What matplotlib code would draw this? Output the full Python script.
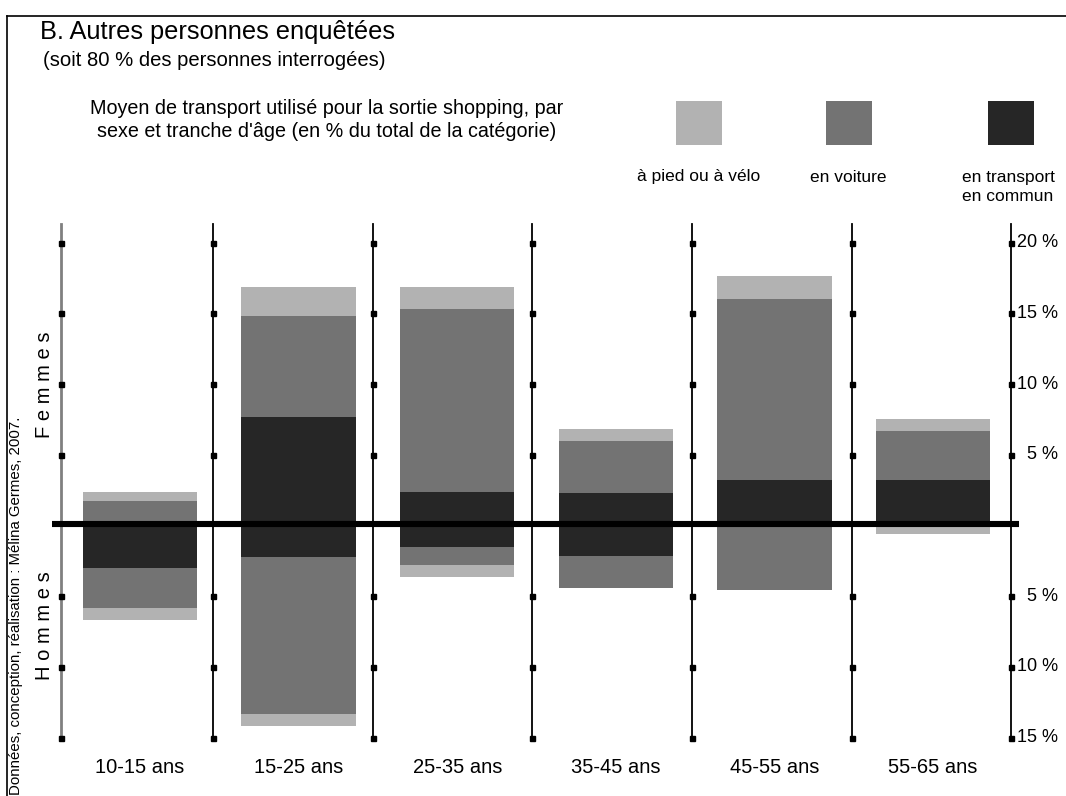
import numpy as np
import matplotlib
matplotlib.use("Agg")
import matplotlib.pyplot as plt
from matplotlib.patches import Rectangle

plt.rcParams['font.family'] = ['Liberation Sans', 'DejaVu Sans']

# Données (en % du total de la catégorie)
tranches = ["10-15 ans", "15-25 ans", "25-35 ans", "35-45 ans", "45-55 ans", "55-65 ans"]
femmes_transport = [0.0, 7.7, 2.4, 2.3, 3.2, 3.2]
femmes_voiture   = [1.7, 7.1, 12.9, 3.7, 12.8, 3.5]
femmes_pied      = [0.7, 2.1, 1.6, 0.8, 1.65, 0.8]
hommes_transport = [3.0, 2.2, 1.5, 2.15, 0.0, 0.0]
hommes_voiture   = [2.8, 11.15, 1.3, 2.3, 4.55, 0.0]
hommes_pied      = [0.9, 0.8, 0.85, 0.0, 0.0, 0.6]
ticks_haut = [20, 15, 10, 5]
ticks_bas = [5, 10, 15]

c_pied = "#b2b2b2"
c_voiture = "#737373"
c_transport = "#262626"

W, H = 1066, 796
fig = plt.figure(figsize=(W/100, H/100), dpi=100)
ax = fig.add_axes([0, 0, 1, 1])
# 1 unité x = 158.6 px (centre 1er groupe à x=140), 1 % = 14.14 px (zéro à y=525.5)
ax.set_xlim(-140/158.6, (W-140)/158.6)
ax.set_ylim(-(H-525.5)/14.14, 525.5/14.14)
ax.set_axis_off()

x = np.arange(len(tranches))
larg = 0.722

# séparateurs verticaux
sep = [-0.5, 0.46, 1.47, 2.47, 3.48, 4.49, 5.49]
marq = [20, 15, 10, 5, -5, -10, -15]
for k, xs in enumerate(sep):
    col = "#808080" if k == 0 else "black"
    lw = 2.0 if k == 0 else 1.3
    ax.plot([xs, xs], [-15, 21.3], color=col, lw=lw, zorder=1)
    ax.plot([xs]*len(marq), marq, ls="none", marker="s", ms=3.6, color="black", zorder=2)

# barres femmes (vers le haut)
ft = np.array(femmes_transport); fv = np.array(femmes_voiture); fp = np.array(femmes_pied)
ax.bar(x, ft, larg, color=c_transport, zorder=3)
ax.bar(x, fv, larg, bottom=ft, color=c_voiture, zorder=3)
ax.bar(x, fp, larg, bottom=ft+fv, color=c_pied, zorder=3)
# barres hommes (vers le bas)
ht = np.array(hommes_transport); hv = np.array(hommes_voiture); hp = np.array(hommes_pied)
ax.bar(x, -ht, larg, color=c_transport, zorder=3)
ax.bar(x, -hv, larg, bottom=-ht, color=c_voiture, zorder=3)
ax.bar(x, -hp, larg, bottom=-ht-hv, color=c_pied, zorder=3)

# ligne du zéro
ax.plot([-0.555, 5.54], [0.1, 0.1], color="black", lw=4.4, solid_capstyle="butt", zorder=4)

# graduations à droite
xr = (1058-140)/158.6
for t in ticks_haut:
    ax.text(xr, t, f"{t} %", ha="right", va="center", fontsize=13)
for t in ticks_bas:
    ax.text(xr, -t, f"{t} %", ha="right", va="center", fontsize=13)

# étiquettes des tranches
for i, lab in enumerate(tranches):
    ax.text(i, -17.1, lab, ha="center", va="center", fontsize=14.5)

# cadre partiel
ax.plot([(7-140)/158.6]*2, [(525.5-16)/14.14, -30], color="black", lw=1.2, clip_on=False)
ax.plot([(7-140)/158.6, 10], [(525.5-16)/14.14]*2, color="black", lw=1.2, clip_on=False)

# titres
fig.text(40/W, 1-32/H, "B. Autres personnes enquêtées", fontsize=18.3, va="center", ha="left")
fig.text(43/W, 1-60/H, "(soit 80 % des personnes interrogées)", fontsize=14.6, va="center", ha="left")
fig.text(327/W, 1-120/H, "Moyen de transport utilisé pour la sortie shopping, par\nsexe et tranche d'âge (en % du total de la catégorie)",
         fontsize=14.2, va="center", ha="center", linespacing=1.3)

# légende
leg = [(676, c_pied), (826, c_voiture), (988, c_transport)]
for xp, col in leg:
    fig.patches.append(Rectangle((xp/W, 1-145/H), 46/W, 44/H, transform=fig.transFigure,
                                 facecolor=col, edgecolor="none"))
fig.text(699/W, 1-177/H, "à pied ou à vélo", fontsize=12.5, ha="center", va="center")
fig.text(848/W, 1-177/H, "en voiture", fontsize=12.5, ha="center", va="center")
fig.text(962/W, 1-187/H, "en transport\nen commun", fontsize=12.5, ha="left", va="center", linespacing=1.3)

# textes verticaux
fig.text(45/W, 1-385/H, "F e m m e s", fontsize=14.5, rotation=90, ha="center", va="center")
fig.text(45/W, 1-626/H, "H o m m e s", fontsize=14.5, rotation=90, ha="center", va="center")
fig.text(16/W, 1-606/H, "Données, conception, réalisation : Mélina Germes, 2007.", fontsize=10.8,
         rotation=90, ha="center", va="center")

fig.savefig("out.png", dpi=100)
